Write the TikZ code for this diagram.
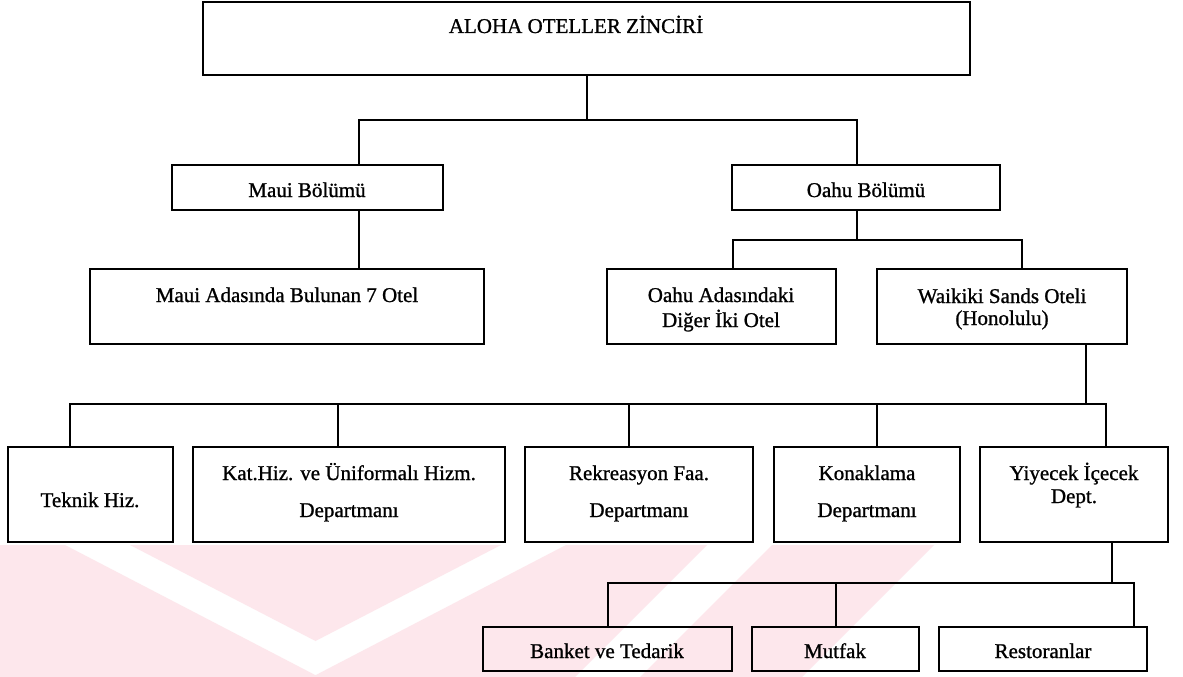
\documentclass[tikz,border=0pt]{standalone}
\usepackage{fontspec}
\setmainfont[FakeBold=1.0]{Liberation Serif}
\begin{document}
\begin{tikzpicture}[x=1pt,y=-1pt,
  box/.style={draw, line width=1.5pt, inner sep=0pt, fill=none},
  lbl/.style={anchor=base, inner sep=0pt, font=\fontsize{21}{25}\selectfont},
  conn/.style={line width=1.5pt},
  wm/.style={fill={rgb,255:red,253;green,231;blue,236}, draw=none}]

\fill[white] (0,0) rectangle (1183,677);
\useasboundingbox (0,0) rectangle (1183,677);

% pale background emblem in the lower band
\begin{scope}
  \clip (0,545) rectangle (1183,677);
  \fill[wm] (0,545) -- (65,545) -- (319,677) -- (0,677) -- cycle;
  \fill[wm] (130,545) -- (501,545) -- (315.5,641) -- cycle;
  \fill[wm] (566,545) -- (707,545) -- (575,677) -- (312,677) -- cycle;
  \fill[wm] (772,545) -- (934,545) -- (802,677) -- (640,677) -- cycle;
\end{scope}

% boxes
\node[box, minimum width=767pt, minimum height=73pt] (top) at (586.5,38.5) {};
\node[box, minimum width=271pt, minimum height=45pt] (maui) at (307.5,187.5) {};
\node[box, minimum width=268pt, minimum height=45pt] (oahu) at (866,187.5) {};
\node[box, minimum width=394pt, minimum height=75pt] (mauiA) at (287,306.5) {};
\node[box, minimum width=229pt, minimum height=75pt] (oahuA) at (721.5,306.5) {};
\node[box, minimum width=250pt, minimum height=75pt] (waik) at (1002,306.5) {};
\node[box, minimum width=165pt, minimum height=95pt] (teknik) at (90.5,494.5) {};
\node[box, minimum width=312pt, minimum height=95pt] (kat) at (349,494.5) {};
\node[box, minimum width=228pt, minimum height=95pt] (rek) at (639,494.5) {};
\node[box, minimum width=186pt, minimum height=95pt] (kon) at (867,494.5) {};
\node[box, minimum width=188pt, minimum height=95pt] (yiy) at (1074,494.5) {};
\node[box, minimum width=249pt, minimum height=44pt] (banket) at (607.5,649) {};
\node[box, minimum width=167pt, minimum height=44pt] (mutfak) at (835.5,649) {};
\node[box, minimum width=208pt, minimum height=44pt] (rest) at (1043,649) {};

% texts
\node[lbl] (t-top) at (576,33) {ALOHA OTELLER ZİNCİRİ};
\node[lbl] (t-maui) at (307,197) {Maui Bölümü};
\node[lbl] (t-oahu) at (866,197) {Oahu Bölümü};
\node[lbl] (t-mauiA) at (287,302) {Maui Adasında Bulunan 7 Otel};
\node[lbl] (t-oahuA1) at (721,302) {Oahu Adasındaki};
\node[lbl] (t-oahuA2) at (721,327) {Diğer İki Otel};
\node[lbl] (t-waik1) at (1002,303) {Waikiki Sands Oteli};
\node[lbl] (t-waik2) at (1002,325) {(Honolulu)};
\node[lbl] (t-teknik) at (90,507) {Teknik Hiz.};
\node[lbl] (t-kat1) at (349,480) {Kat.Hiz. ve Üniformalı Hizm.};
\node[lbl] (t-kat2) at (349,517) {Departmanı};
\node[lbl] (t-rek1) at (639,480) {Rekreasyon Faa.};
\node[lbl] (t-rek2) at (639,517) {Departmanı};
\node[lbl] (t-kon1) at (867,480) {Konaklama};
\node[lbl] (t-kon2) at (867,517) {Departmanı};
\node[lbl] (t-yiy1) at (1074,480) {Yiyecek İçecek};
\node[lbl] (t-yiy2) at (1074,503) {Dept.};
\node[lbl] (t-banket) at (607,658) {Banket ve Tedarik};
\node[lbl] (t-mutfak) at (835,658) {Mutfak};
\node[lbl] (t-rest) at (1043,658) {Restoranlar};

% junctions and drop lines
\coordinate (b1) at (587,120);
\coordinate (xm) at (359,0);
\coordinate (xo) at (857,0);
\coordinate (b2) at (857,240);
\coordinate (xoa) at (733,0);
\coordinate (xw) at (1022,0);
\coordinate (b3) at (1086,404);
\coordinate (x1) at (70,0);
\coordinate (x2) at (338,0);
\coordinate (x3) at (629,0);
\coordinate (x4) at (877,0);
\coordinate (x5) at (1106,0);
\coordinate (b4) at (1112,583);
\coordinate (y1) at (608,0);
\coordinate (y2) at (836,0);
\coordinate (y3) at (1134,0);

% connectors
\draw[conn] (top.south -| b1) -- (b1);
\draw[conn] (b1) -| (maui.north -| xm);
\draw[conn] (b1) -| (oahu.north -| xo);
\draw[conn] (maui.south -| xm) -- (mauiA.north -| xm);
\draw[conn] (oahu.south -| xo) -- (b2);
\draw[conn] (b2) -| (oahuA.north -| xoa);
\draw[conn] (b2) -| (waik.north -| xw);
\draw[conn] (waik.south -| b3) -- (b3);
\draw[conn] (b3) -| (teknik.north -| x1);
\draw[conn] (b3) -| (kat.north -| x2);
\draw[conn] (b3) -| (rek.north -| x3);
\draw[conn] (b3) -| (kon.north -| x4);
\draw[conn] (b3) -| (yiy.north -| x5);
\draw[conn] (yiy.south -| b4) -- (b4);
\draw[conn] (b4) -| (banket.north -| y1);
\draw[conn] (b4) -| (mutfak.north -| y2);
\draw[conn] (b4) -| (rest.north -| y3);
\end{tikzpicture}
\end{document}
